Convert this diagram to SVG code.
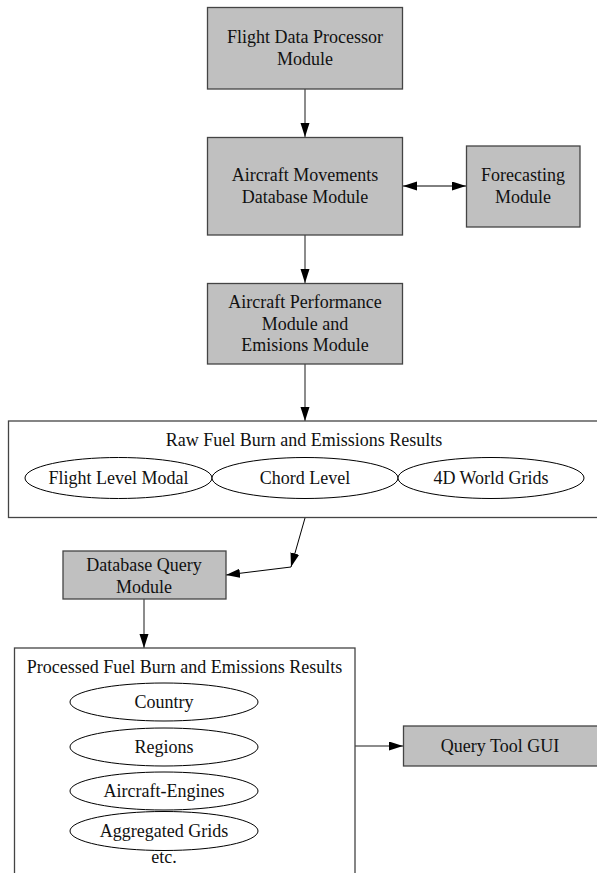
<svg xmlns="http://www.w3.org/2000/svg" width="597" height="873" viewBox="0 0 597 873">
<style>
.box{fill:#c0c0c0;stroke:#444;stroke-width:1.3}
.grp{fill:#fff;stroke:#444;stroke-width:1.3}
.ell{fill:#fff;stroke:#000;stroke-width:1}
.t{font-family:"Liberation Serif","Times New Roman",serif;font-size:18px;fill:#111;text-anchor:middle}
.c{fill:none;stroke:#666;stroke-width:1.5}
.cb{fill:none;stroke:#000;stroke-width:1}
</style>
<defs>
<marker id="ah" markerUnits="userSpaceOnUse" markerWidth="14" markerHeight="10" refX="14" refY="4.5" orient="auto-start-reverse">
<path d="M0,0 L14,4.5 L0,9 z" fill="#000"/>
</marker>
</defs>
<rect width="597" height="873" fill="#fff"/>
<g id="connectors">
<line class="c" x1="305" y1="89" x2="305" y2="137" marker-end="url(#ah)"/>
<line class="cb" x1="403" y1="186" x2="466" y2="186" marker-start="url(#ah)" marker-end="url(#ah)"/>
<line class="c" x1="305" y1="235" x2="305" y2="283" marker-end="url(#ah)"/>
<line class="c" x1="305" y1="364" x2="305" y2="421" marker-end="url(#ah)"/>
<line class="cb" x1="305" y1="518" x2="291" y2="567" marker-end="url(#ah)"/>
<line class="cb" x1="291" y1="567" x2="226" y2="575" marker-end="url(#ah)"/>
<line class="c" x1="144" y1="599" x2="144" y2="648" marker-end="url(#ah)"/>
<line class="c" x1="355" y1="746" x2="403" y2="746" marker-end="url(#ah)"/>
</g>
<g id="fdp">
<rect class="box" x="207.5" y="7.5" width="195" height="81.5"/>
<text class="t" x="305" y="43">Flight Data Processor</text>
<text class="t" x="305" y="65">Module</text>
</g>
<g id="amdb">
<rect class="box" x="207.5" y="137.5" width="195" height="97.5"/>
<text class="t" x="305" y="181">Aircraft Movements</text>
<text class="t" x="305" y="203">Database Module</text>
</g>
<g id="forecast">
<rect class="box" x="466.5" y="146" width="113.5" height="81"/>
<text class="t" x="523" y="181">Forecasting</text>
<text class="t" x="523" y="203">Module</text>
</g>
<g id="perf">
<rect class="box" x="207.5" y="283.5" width="195" height="80.5"/>
<text class="t" x="305" y="308">Aircraft Performance</text>
<text class="t" x="305" y="329.5">Module and</text>
<text class="t" x="305" y="351">Emisions Module</text>
</g>
<g id="raw">
<rect class="grp" x="8.5" y="421" width="600" height="96.5"/>
<text class="t" x="304" y="446">Raw Fuel Burn and Emissions Results</text>
<ellipse class="ell" cx="118.5" cy="478" rx="93.5" ry="20.5"/>
<text class="t" x="118.5" y="484">Flight Level Modal</text>
<ellipse class="ell" cx="305" cy="478" rx="93" ry="20.5"/>
<text class="t" x="305" y="484">Chord Level</text>
<ellipse class="ell" cx="491" cy="478" rx="93" ry="20.5"/>
<text class="t" x="491" y="484">4D World Grids</text>
</g>
<g id="dbq">
<rect class="box" x="63" y="551" width="163" height="48"/>
<text class="t" x="144" y="571">Database Query</text>
<text class="t" x="144" y="593">Module</text>
</g>
<g id="processed">
<rect class="grp" x="14.5" y="648" width="340.5" height="240"/>
<text class="t" x="184.5" y="673">Processed Fuel Burn and Emissions Results</text>
<ellipse class="ell" cx="164" cy="702" rx="94" ry="19"/>
<text class="t" x="164" y="708">Country</text>
<ellipse class="ell" cx="164" cy="747" rx="94" ry="19"/>
<text class="t" x="164" y="753">Regions</text>
<ellipse class="ell" cx="164" cy="791" rx="94" ry="19"/>
<text class="t" x="164" y="797">Aircraft-Engines</text>
<ellipse class="ell" cx="164" cy="831" rx="94" ry="19.5"/>
<text class="t" x="164" y="837">Aggregated Grids</text>
<text class="t" x="164" y="863">etc.</text>
</g>
<g id="gui">
<rect class="box" x="403.5" y="726" width="200" height="40"/>
<text class="t" x="500" y="752">Query Tool GUI</text>
</g>
</svg>
